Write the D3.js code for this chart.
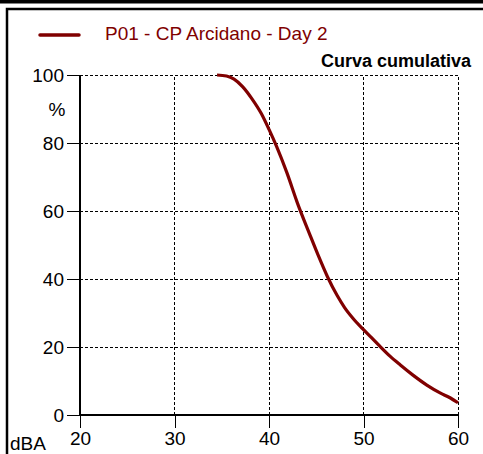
<!DOCTYPE html>
<html>
<head>
<meta charset="utf-8">
<script src="https://cdn.jsdelivr.net/npm/d3@7"></script>
<style>
  body { margin: 0; background: #fff; }
  svg { display: block; font-family: "Liberation Sans", Arial, sans-serif; }
</style>
</head>
<body>
<div id="chart"></div>
<script>
// cumulative curve
var dbaValues = [34.5, 35.5, 36.3, 37.2, 38.2, 39.2, 40.0, 40.8, 41.9, 43.0, 44.3, 45.2, 46.2, 47.2, 48.0, 48.9, 49.9, 50.9, 51.7, 52.8, 53.9, 55.2, 56.7, 58.1, 59.2, 60];
var pctValues = [100, 99.7, 98.8, 96.6, 93.0, 88.6, 84.0, 79.0, 71.2, 62.4, 53.2, 47.0, 40.6, 35.2, 31.6, 28.4, 25.4, 22.6, 20.3, 17.3, 14.7, 11.8, 8.8, 6.5, 5.0, 3.6];
var xTicks = [20, 30, 40, 50, 60];
var yTicks = [0, 20, 40, 60, 80, 100];
var seriesName = "P01 - CP Arcidano - Day 2";
var title = "Curva cumulativa";

var width = 483, height = 454;
var color = "#800000";

var svg = d3.select("#chart").append("svg")
  .attr("width", width)
  .attr("height", height);

// frame lines
svg.append("rect")
  .attr("x", 0).attr("y", 0)
  .attr("width", width).attr("height", 3.5)
  .attr("fill", "#000");
svg.append("path")
  .attr("d", "M7," + height + "V9H" + width)
  .attr("fill", "none")
  .attr("stroke", "#000")
  .attr("stroke-width", 2.5);

var x = d3.scaleLinear().domain([20, 60]).range([80, 458]);
var y = d3.scaleLinear().domain([0, 100]).range([415, 75]);

// dashed grid
var grid = svg.append("g").attr("shape-rendering", "crispEdges");
grid.selectAll(".vgrid")
  .data(xTicks.slice(1))
  .enter().append("line")
  .attr("class", "vgrid")
  .attr("x1", function(d) { return x(d); })
  .attr("x2", function(d) { return x(d); })
  .attr("y1", y(0)).attr("y2", y(100))
  .attr("stroke", "#000")
  .attr("stroke-dasharray", "3,2");

grid.selectAll(".hgrid")
  .data(yTicks.slice(1))
  .enter().append("line")
  .attr("class", "hgrid")
  .attr("x1", x(20)).attr("x2", x(60))
  .attr("y1", function(d) { return y(d); })
  .attr("y2", function(d) { return y(d); })
  .attr("stroke", "#000")
  .attr("stroke-dasharray", "3,2");

// axes
var xAxis = svg.append("g")
  .attr("transform", "translate(0," + y(0) + ")")
  .call(d3.axisBottom(x).tickValues(xTicks).tickSize(13).tickPadding(4).tickFormat(d3.format("d")));
var yAxis = svg.append("g")
  .attr("transform", "translate(" + x(20) + ",0)")
  .call(d3.axisLeft(y).tickValues(yTicks).tickSize(13).tickPadding(3).tickFormat(d3.format("d")));

[xAxis, yAxis].forEach(function(a) {
  a.attr("shape-rendering", "crispEdges");
  a.select(".domain").attr("stroke", "#000").attr("stroke-width", 1.2);
  a.selectAll(".tick line").attr("stroke", "#000");
  a.selectAll("text")
    .attr("fill", "#000")
    .attr("font-size", 19)
    .attr("font-family", "Liberation Sans, Arial, sans-serif");
});
xAxis.select(".domain").attr("d", "M" + x(20) + ",0H" + x(60));
yAxis.select(".domain").attr("d", "M0," + y(0) + "V" + y(100));

// curve
var data = dbaValues.map(function(d, i) { return { x: d, y: pctValues[i] }; });
var line = d3.line()
  .x(function(d) { return x(d.x); })
  .y(function(d) { return y(d.y); })
  .curve(d3.curveMonotoneX);

svg.append("path")
  .datum(data)
  .attr("d", line)
  .attr("fill", "none")
  .attr("stroke", color)
  .attr("stroke-width", 3.2)
  .attr("stroke-linejoin", "round");

// labels
svg.append("text")
  .attr("x", 57).attr("y", 116)
  .attr("text-anchor", "middle")
  .style("font-size", "19px")
  .text("%");
svg.append("text")
  .attr("x", 10).attr("y", 450)
  .style("font-size", "19px")
  .text("dBA");
svg.append("text")
  .attr("x", 471).attr("y", 67)
  .attr("text-anchor", "end")
  .style("font-size", "18px")
  .style("font-weight", "bold")
  .text(title);

// legend
svg.append("line")
  .attr("x1", 40).attr("x2", 79)
  .attr("y1", 35).attr("y2", 35)
  .attr("stroke", color)
  .attr("stroke-width", 3.5)
  .attr("stroke-linecap", "round");
svg.append("text")
  .attr("x", 105).attr("y", 40)
  .attr("fill", color)
  .style("font-size", "19px")
  .text(seriesName);
</script>
</body>
</html>
